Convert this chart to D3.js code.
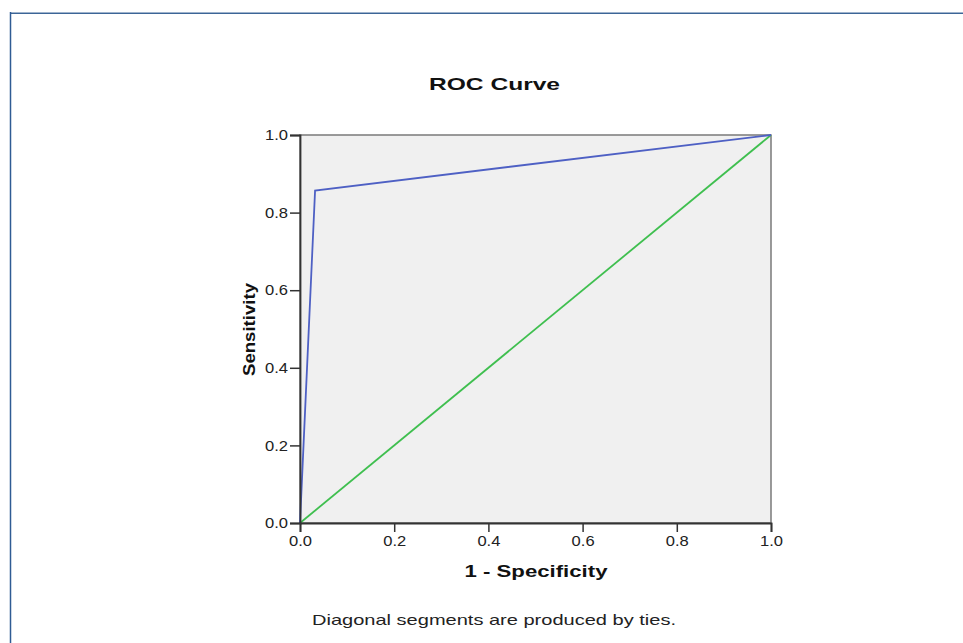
<!DOCTYPE html>
<html>
<head>
<meta charset="utf-8">
<script src="https://cdn.jsdelivr.net/npm/d3@7"></script>
<style>
  body { margin: 0; background: #fff; }
  svg { display: block; font-family: "Liberation Sans", Arial, sans-serif; }
</style>
</head>
<body>
<svg id="chart" width="963" height="643"></svg>
<script>
// ROC data
const rocX = [0, 0.032, 1];
const rocY = [0, 0.857, 1];
const refX = [0, 1];
const refY = [0, 1];
const tickValues = [0, 0.2, 0.4, 0.6, 0.8, 1.0];

// plot area
const plotLeft = 300, plotRight = 771, plotTop = 135, plotBottom = 523;

const svg = d3.select("#chart");

// outer frame lines
svg.append("line").attr("x1", 10).attr("x2", 963).attr("y1", 12.5).attr("y2", 12.5)
    .attr("stroke", "#9fb3cc").attr("stroke-width", 1);
svg.append("line").attr("x1", 10).attr("x2", 963).attr("y1", 13.5).attr("y2", 13.5)
    .attr("stroke", "#3b6597").attr("stroke-width", 1);
svg.append("line").attr("x1", 10.5).attr("x2", 10.5).attr("y1", 12).attr("y2", 643)
    .attr("stroke", "#2f5b94").attr("stroke-width", 1.5);

// scales
const x = d3.scaleLinear().domain([0, 1]).range([plotLeft, plotRight]);
const y = d3.scaleLinear().domain([0, 1]).range([plotBottom, plotTop]);

// background
svg.append("rect")
    .attr("x", plotLeft).attr("y", plotTop)
    .attr("width", plotRight - plotLeft).attr("height", plotBottom - plotTop)
    .attr("fill", "#f0f0f0")
    .attr("stroke", "#7a7a7a").attr("stroke-width", 1.5);

// lines
const line = d3.line().x(d => x(d[0])).y(d => y(d[1]));

svg.append("path")
    .datum(refX.map((v, i) => [v, refY[i]]))
    .attr("d", line)
    .attr("fill", "none")
    .attr("stroke", "#3fbf4f")
    .attr("stroke-width", 1.8);

svg.append("path")
    .datum(rocX.map((v, i) => [v, rocY[i]]))
    .attr("d", line)
    .attr("fill", "none")
    .attr("stroke", "#4e60c4")
    .attr("stroke-width", 1.8);

// axes
const fmt = d3.format(".1f");
const xAxis = svg.append("g")
    .attr("transform", `translate(0,${plotBottom})`)
    .call(d3.axisBottom(x).tickValues(tickValues).tickFormat(fmt).tickSize(9).tickPadding(4));
const yAxis = svg.append("g")
    .attr("transform", `translate(${plotLeft},0)`)
    .call(d3.axisLeft(y).tickValues(tickValues).tickFormat(fmt).tickSize(10).tickPadding(2));

[xAxis, yAxis].forEach(a => {
    a.select(".domain").attr("stroke", "#333").attr("stroke-width", 1.8);
    a.selectAll(".tick line").attr("stroke", "#333").attr("stroke-width", 1.5);
    a.selectAll(".tick text")
        .attr("fill", "#222")
        .attr("textLength", 23)
        .attr("lengthAdjust", "spacingAndGlyphs")
        .style("font-size", "14.5px")
        .style("font-family", "'Liberation Sans', Arial, sans-serif");
});

// title
svg.append("text")
    .attr("x", 494.5).attr("y", 90)
    .attr("text-anchor", "middle")
    .attr("textLength", 131).attr("lengthAdjust", "spacingAndGlyphs")
    .style("font-size", "17px").style("font-weight", "bold")
    .attr("fill", "#111")
    .text("ROC Curve");

// axis labels
svg.append("text")
    .attr("x", 536).attr("y", 577)
    .attr("text-anchor", "middle")
    .attr("textLength", 143).attr("lengthAdjust", "spacingAndGlyphs")
    .style("font-size", "17px").style("font-weight", "bold")
    .attr("fill", "#111")
    .text("1 - Specificity");

svg.append("text")
    .attr("transform", "rotate(-90)")
    .attr("x", -329.5).attr("y", 255)
    .attr("text-anchor", "middle")
    .attr("textLength", 93).attr("lengthAdjust", "spacingAndGlyphs")
    .style("font-size", "17px").style("font-weight", "bold")
    .attr("fill", "#111")
    .text("Sensitivity");

// footnote
svg.append("text")
    .attr("x", 494).attr("y", 625)
    .attr("text-anchor", "middle")
    .attr("textLength", 364).attr("lengthAdjust", "spacingAndGlyphs")
    .style("font-size", "15px")
    .attr("fill", "#222")
    .text("Diagonal segments are produced by ties.");
</script>
</body>
</html>
